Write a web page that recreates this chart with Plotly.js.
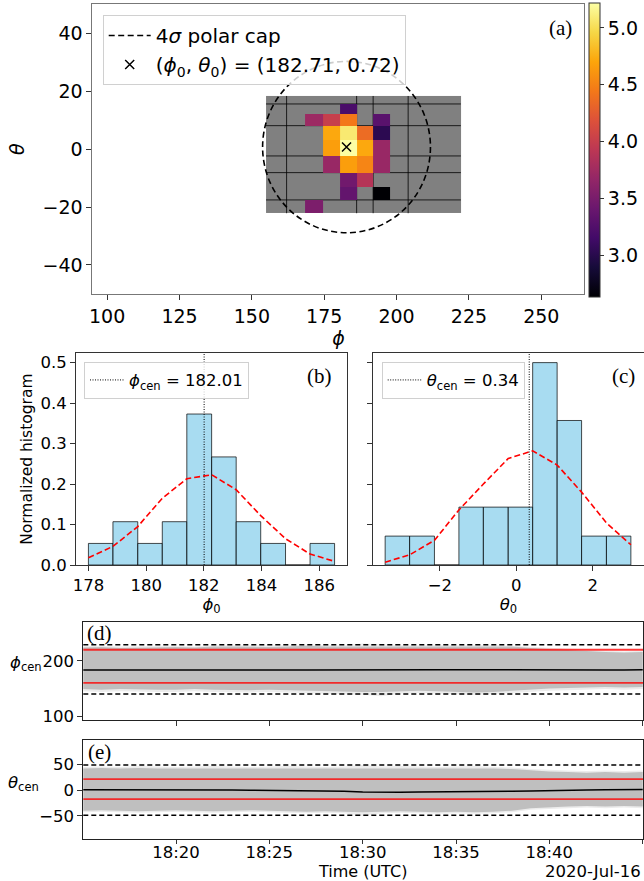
<!DOCTYPE html>
<html><head><meta charset="utf-8">
<script src="https://cdn.plot.ly/plotly-3.0.1.min.js"></script>
<style>html,body{margin:0;padding:0;background:#fff}#plot{width:644px;height:881px}</style>
</head><body><div id="plot"></div>
<script>
// ================= DATA =================
// (a) polar-cap map
const mapColEdges = [154.9, 162.0, 168.4, 174.5, 180.5, 186.2, 191.9, 197.7, 204.0, 222.2];
const mapRowEdges = [18.37, 15.61, 12.15, 8.11, 3.18, -2.35, -8.11, -12.95, -17.54, -22.13]; // top -> bottom
const mapValues = [ // rows top -> bottom, columns left -> right
  [null, null, null, null, null, null, null, null, null],
  [null, null, null, null, 3.20, null, null, null, null],
  [null, null, 3.72, 4.00, 4.44, null, 3.30, null, null],
  [null, null, null, 4.72, 5.08, 4.36, 3.02, null, null],
  [null, null, null, 4.66, 5.22, 4.72, 3.70, null, null],
  [null, null, null, 3.70, 4.66, 4.52, 3.70, null, null],
  [null, null, null, null, 3.45, 3.88, null, null, null],
  [null, null, null, null, 3.36, null, 2.63, null, null],
  [null, null, 3.52, null, null, null, null, null, null]
];
const gridLinePhi = [162.0, 186.2, 191.9, 204.0];
const gridLineTheta = [15.61, 8.11, -2.35, -8.11, -17.54];
const capCenter = [182.71, 0.72];
const capRadius = [29.0, 29.6];
const colorRange = [2.63, 5.22];
const colorTicks = [3.0, 3.5, 4.0, 4.5, 5.0];

// (b) phi0 histogram
const phiEdges = [178.00, 178.85, 179.71, 180.56, 181.41, 182.27, 183.12, 183.97, 184.83, 185.68, 186.53];
const phiDensity = [0.0533, 0.107, 0.0533, 0.107, 0.373, 0.267, 0.107, 0.0533, 0, 0.0533];
const phiFit = [0.018, 0.046, 0.095, 0.165, 0.213, 0.223, 0.186, 0.122, 0.065, 0.027, 0.009];
const phiCen = 182.01;

// (c) theta0 histogram
const thetaEdges = [-3.43, -2.79, -2.14, -1.50, -0.86, -0.21, 0.43, 1.07, 1.71, 2.36, 3.00];
const thetaDensity = [0.0714, 0.0714, 0, 0.143, 0.143, 0.143, 0.500, 0.357, 0.0714, 0.0714];
const thetaFit = [0.007, 0.025, 0.061, 0.136, 0.200, 0.263, 0.282, 0.247, 0.180, 0.104, 0.050];
const thetaCen = 0.34;

// (d),(e) time series, one sample per minute from 18:15 to 18:45 UTC
const timeMinutes = [15,16,17,18,19,20,21,22,23,24,25,26,27,28,29,30,31,32,33,34,35,36,37,38,39,40,41,42,43,44,45];
const phiCenSeries = [183.5,183.6,183.4,183.2,183.5,183.7,183.3,183.0,183.2,183.6,183.8,183.5,183.4,183.6,183.9,184.2,184.5,184.3,184.0,183.9,183.8,183.6,183.4,183.5,183.3,183.5,183.6,183.4,183.5,183.6,183.7];
const phiInUpper  = [224,225,223,224,225,225,224,226,226,225,225,226,227,226,226,227,227,226,226,227,226,226,227,226,223,221,219,217,216,215,216];
const phiOutUpper = [226,227,226,227,227,227,226,228,228,227,227,228,229,228,228,231,229,228,228,229,228,228,229,227,225,223,221,219,218,217,218];
const phiInLower  = [149,148,149,148,148,148,149,148,147,147,148,147,146,145,145,144,144,145,146,145,144,143,144,146,149,150,151,152,153,152,153];
const phiOutLower = [145,144,145,144,144,144,145,144,143,143,144,143,142,141,141,139,136,141,142,141,140,139,140,142,145,146,147,148,149,148,149];
const thetaCenSeries = [0.5,0.6,0.4,0.5,0.8,1.0,0.6,0.2,0.0,-0.3,-0.6,-0.4,-1.0,-1.6,-2.2,-3.6,-4.2,-4.0,-3.6,-3.0,-2.8,-2.5,-2.2,-2.0,-1.5,-0.5,0.0,0.3,0.5,0.8,1.0];
const thetaInUpper  = [42,43,42,43,42,42,42,43,42,42,42,43,42,42,42,43,42,43,42,42,42,43,42,41,38,36,35,34,35,34,35];
const thetaOutUpper = [45,46,45,47,46,45,46,47,46,45,46,47,46,45,46,49,46,47,46,45,46,47,45,44,41,39,38,37,38,37,38];
const thetaInLower  = [-40,-39,-40,-41,-40,-39,-40,-41,-40,-39,-40,-41,-42,-41,-42,-43,-42,-41,-42,-43,-42,-43,-42,-40,-35,-33,-32,-31,-32,-31,-32];
const thetaOutLower = [-43,-42,-43,-44,-43,-42,-43,-44,-43,-42,-43,-44,-45,-44,-45,-50,-45,-44,-45,-46,-45,-46,-45,-43,-38,-36,-35,-34,-35,-34,-35];
const phiDashed = [228.9, 140.3];
const phiRed = [219.9, 160.2];
const thetaDashed = [48.7, -48.7];
const thetaRed = [21.4, -17.5];
const dateLabel = '2020-Jul-16';

// ================= BUILD =================
const W = 644, H = 881;
const fx = p => p / W;
const fy = p => 1 - p / H;
const FONT = 'DejaVu Sans';
const SERIF = 'Liberation Serif';
const INFERNO = [[0,'#000004'],[0.1,'#160b39'],[0.2,'#420a68'],[0.3,'#6a176e'],[0.4,'#932667'],[0.5,'#bc3754'],[0.6,'#dd513a'],[0.7,'#f37819'],[0.8,'#fca50a'],[0.9,'#f6d746'],[1,'#fcffa4']];

const rowEdgesAsc = mapRowEdges.slice().reverse();
const zAsc = mapValues.slice().reverse();
const times = timeMinutes.map(m => `2020-07-16 18:${String(m).padStart(2,'0')}:00`);
const centers = e => e.slice(0,-1).map((v,i) => (v + e[i+1]) / 2);
const widths = e => e.slice(0,-1).map((v,i) => e[i+1] - v);

// grid lines as segments separated by nulls
const gx = [], gy = [];
gridLinePhi.forEach(p => { gx.push(p, p, null); gy.push(mapRowEdges[0], mapRowEdges[mapRowEdges.length-1], null); });
gridLineTheta.forEach(t => { gx.push(mapColEdges[0], mapColEdges[mapColEdges.length-1], null); gy.push(t, t, null); });

const DASH = '6px,3.5px';
const traces = [
  // gray background of map
  {type:'heatmap', x:[mapColEdges[0], mapColEdges[mapColEdges.length-1]], y:[rowEdgesAsc[0], rowEdgesAsc[rowEdgesAsc.length-1]], z:[[1]],
   colorscale:[[0,'#808080'],[1,'#808080']], showscale:false, hoverinfo:'skip', xaxis:'x', yaxis:'y'},
  {type:'scatter', mode:'lines', x:gx, y:gy, line:{color:'rgba(0,0,0,0.8)', width:1}, showlegend:false, hoverinfo:'skip', xaxis:'x', yaxis:'y'},
  {type:'scatter', mode:'lines', x:[null], y:[null], line:{color:'#000', width:1.6, dash:DASH}, name:'4<i>σ</i> polar cap', legend:'legend', legendrank:1, xaxis:'x', yaxis:'y'},
  // colored cells on overlay axis (drawn above grid lines)
  {type:'heatmap', x:mapColEdges, y:rowEdgesAsc, z:zAsc, zmin:colorRange[0], zmax:colorRange[1], colorscale:INFERNO, hoverongaps:false,
   xaxis:'x', yaxis:'y6', showlegend:false,
   colorbar:{x:fx(589), xanchor:'left', y:fy(150), yanchor:'middle', len:294, lenmode:'pixels', thickness:10.5, thicknessmode:'pixels',
     xpad:0, ypad:0, outlinewidth:1, outlinecolor:'#333', ticks:'outside', ticklen:4, tickcolor:'#333',
     tickvals:colorTicks, tickformat:'.1f', tickfont:{family:FONT, size:19, color:'#000'}}},
  {type:'scatter', mode:'markers', x:[capCenter[0]], y:[capCenter[1]], marker:{symbol:'x-thin', size:9, line:{color:'#000', width:1.5}, color:'#000'},
   name:'(<i>ϕ</i><sub>0</sub>, <i>θ</i><sub>0</sub>) = (182.71, 0.72)', legend:'legend', legendrank:2, xaxis:'x', yaxis:'y6'},

  // (b)
  {type:'bar', x:centers(phiEdges), y:phiDensity, width:widths(phiEdges), marker:{color:'rgba(135,206,235,0.72)', line:{color:'rgba(0,0,0,0.7)', width:1}},
   xaxis:'x2', yaxis:'y2', showlegend:false},
  {type:'scatter', mode:'lines', x:phiEdges, y:phiFit, line:{color:'#ff0000', width:1.6, dash:'6px,3px'}, xaxis:'x2', yaxis:'y2', showlegend:false},
  {type:'scatter', mode:'lines', x:[null], y:[null], line:{color:'#000', width:1, dash:'1px,1.5px'}, name:'<i>ϕ</i><sub>cen</sub> = 182.01', legend:'legend2', xaxis:'x2', yaxis:'y2'},

  // (c)
  {type:'bar', x:centers(thetaEdges), y:thetaDensity, width:widths(thetaEdges), marker:{color:'rgba(135,206,235,0.72)', line:{color:'rgba(0,0,0,0.7)', width:1}},
   xaxis:'x3', yaxis:'y3', showlegend:false},
  {type:'scatter', mode:'lines', x:thetaEdges, y:thetaFit, line:{color:'#ff0000', width:1.6, dash:'6px,3px'}, xaxis:'x3', yaxis:'y3', showlegend:false},
  {type:'scatter', mode:'lines', x:[null], y:[null], line:{color:'#000', width:1, dash:'1px,1.5px'}, name:'<i>θ</i><sub>cen</sub> = 0.34', legend:'legend3', xaxis:'x3', yaxis:'y3'},

  // (d)
  {type:'scatter', mode:'lines', x:times, y:phiOutLower, line:{width:0}, xaxis:'x4', yaxis:'y4', showlegend:false, hoverinfo:'skip'},
  {type:'scatter', mode:'lines', x:times, y:phiOutUpper, line:{width:0}, fill:'tonexty', fillcolor:'#ececec', xaxis:'x4', yaxis:'y4', showlegend:false, hoverinfo:'skip'},
  {type:'scatter', mode:'lines', x:times, y:phiInLower, line:{width:0}, xaxis:'x4', yaxis:'y4', showlegend:false, hoverinfo:'skip'},
  {type:'scatter', mode:'lines', x:times, y:phiInUpper, line:{width:0}, fill:'tonexty', fillcolor:'#bfbfbf', xaxis:'x4', yaxis:'y4', showlegend:false, hoverinfo:'skip'},
  {type:'scatter', mode:'lines', x:times, y:phiCenSeries, line:{color:'#000', width:1.5}, xaxis:'x4', yaxis:'y4', showlegend:false},

  // (e)
  {type:'scatter', mode:'lines', x:times, y:thetaOutLower, line:{width:0}, xaxis:'x5', yaxis:'y5', showlegend:false, hoverinfo:'skip'},
  {type:'scatter', mode:'lines', x:times, y:thetaOutUpper, line:{width:0}, fill:'tonexty', fillcolor:'#ececec', xaxis:'x5', yaxis:'y5', showlegend:false, hoverinfo:'skip'},
  {type:'scatter', mode:'lines', x:times, y:thetaInLower, line:{width:0}, xaxis:'x5', yaxis:'y5', showlegend:false, hoverinfo:'skip'},
  {type:'scatter', mode:'lines', x:times, y:thetaInUpper, line:{width:0}, fill:'tonexty', fillcolor:'#bfbfbf', xaxis:'x5', yaxis:'y5', showlegend:false, hoverinfo:'skip'},
  {type:'scatter', mode:'lines', x:times, y:thetaCenSeries, line:{color:'#000', width:1.5}, xaxis:'x5', yaxis:'y5', showlegend:false}
];

const TF = {family:FONT, size:16.5, color:'#000'};
const ax = (o) => Object.assign({showline:true, mirror:true, linecolor:'#333', linewidth:1, ticks:'outside', ticklen:5, tickwidth:1, tickcolor:'#333',
  showgrid:false, zeroline:false, fixedrange:true, tickfont:TF}, o);

const shapes = [
  {type:'circle', xref:'x', yref:'y', x0:capCenter[0]-capRadius[0], x1:capCenter[0]+capRadius[0], y0:capCenter[1]-capRadius[1], y1:capCenter[1]+capRadius[1],
   line:{color:'#000', width:1.6, dash:DASH}},
  {type:'line', xref:'x2', yref:'y2 domain', x0:phiCen, x1:phiCen, y0:0, y1:1, line:{color:'#000', width:1, dash:'1px,1.5px'}},
  {type:'line', xref:'x3', yref:'y3 domain', x0:thetaCen, x1:thetaCen, y0:0, y1:1, line:{color:'#000', width:1, dash:'1px,1.5px'}}
];
phiDashed.forEach(v => shapes.push({type:'line', xref:'x4 domain', yref:'y4', x0:0, x1:1, y0:v, y1:v, line:{color:'#000', width:1.5, dash:'5px,3px'}}));
phiRed.forEach(v => shapes.push({type:'line', xref:'x4 domain', yref:'y4', x0:0, x1:1, y0:v, y1:v, line:{color:'rgba(255,0,0,0.78)', width:1.8}}));
thetaDashed.forEach(v => shapes.push({type:'line', xref:'x5 domain', yref:'y5', x0:0, x1:1, y0:v, y1:v, line:{color:'#000', width:1.5, dash:'5px,3px'}}));
thetaRed.forEach(v => shapes.push({type:'line', xref:'x5 domain', yref:'y5', x0:0, x1:1, y0:v, y1:v, line:{color:'rgba(255,0,0,0.78)', width:1.8}}));

const panelLabel = (t, x, y) => ({text:t, xref:'paper', yref:'paper', x:fx(x), y:fy(y), xanchor:'center', yanchor:'middle', showarrow:false,
  font:{family:SERIF, size:21, color:'#000'}});

const legendBase = {bgcolor:'rgba(255,255,255,0.8)', bordercolor:'#d0d0d0', borderwidth:1, xanchor:'left', yanchor:'top', itemwidth:40, traceorder:'normal'};

const layout = {
  width:W, height:H, margin:{l:0, r:0, t:0, b:0}, paper_bgcolor:'#fff', plot_bgcolor:'#fff',
  font:{family:FONT, color:'#000'},
  xaxis: ax({domain:[fx(92.4), fx(584.4)], range:[94.9, 264.9], tickvals:[100,125,150,175,200,225,250], anchor:'y', linecolor:'#777',
     tickfont:{family:FONT, size:19, color:'#000'}, title:{text:'<i>ϕ</i>', font:{family:FONT, size:19}, standoff:4}}),
  yaxis: ax({domain:[fy(293.9), fy(4.4)], range:[-50, 50], tickvals:[-40,-20,0,20,40], anchor:'x', linecolor:'#777',
     tickfont:{family:FONT, size:19, color:'#000'}, title:{text:'<i>θ</i>', font:{family:FONT, size:19}, standoff:12}}),
  yaxis6: {overlaying:'y', range:[-50, 50], visible:false, fixedrange:true},
  xaxis2: ax({domain:[fx(76), fx(347)], range:[177.57, 186.96], tickvals:[178,180,182,184,186], anchor:'y2',
     title:{text:'<i>ϕ</i><sub>0</sub>', font:{family:FONT, size:16.5}, standoff:2}}),
  yaxis2: ax({domain:[fy(565), fy(353.3)], range:[0, 0.523], tickvals:[0,0.1,0.2,0.3,0.4,0.5], tickformat:'.1f', anchor:'x2',
     title:{text:'Normalized histogram', font:{family:FONT, size:15.5}, standoff:4}}),
  xaxis3: ax({domain:[fx(373.3), fx(643.5)], range:[-3.74, 3.33], tickvals:[-2,0,2], anchor:'y3',
     title:{text:'<i>θ</i><sub>0</sub>', font:{family:FONT, size:16.5}, standoff:2}}),
  yaxis3: ax({domain:[fy(565), fy(353.3)], range:[0, 0.523], tickvals:[0,0.1,0.2,0.3,0.4,0.5], showticklabels:false, anchor:'x3'}),
  xaxis4: ax({domain:[fx(83.3), fx(643)], type:'date', range:['2020-07-16 18:15:02','2020-07-16 18:45:01'], tick0:'2020-07-16 18:00:00', dtick:300000,
     showticklabels:false, anchor:'y4', linecolor:'#222'}),
  yaxis4: ax({domain:[fy(720.3), fy(622.3)], range:[92.8, 269.4], tickvals:[100,200], anchor:'x4', linecolor:'#222'}),
  xaxis5: ax({domain:[fx(83.3), fx(643)], type:'date', range:['2020-07-16 18:15:02','2020-07-16 18:45:01'], tick0:'2020-07-16 18:00:00', dtick:300000,
     tickformat:'%H:%M', ticklen:4, ticklabelstandoff:-5, anchor:'y5', linecolor:'#222', title:{text:'Time (UTC)', font:{family:FONT, size:16}, standoff:0}}),
  yaxis5: ax({domain:[fy(838.5), fy(740)], range:[-94, 97.4], tickvals:[-50,0,50], anchor:'x5', linecolor:'#222'}),
  legend: Object.assign({}, legendBase, {x:fx(102.7), y:fy(15), font:{family:FONT, size:20, color:'#000'}, itemwidth:42}),
  legend2: Object.assign({}, legendBase, {x:fx(84), y:fy(361.7), font:{family:FONT, size:16.5, color:'#000'}, itemwidth:34}),
  legend3: Object.assign({}, legendBase, {x:fx(381.7), y:fy(361.7), font:{family:FONT, size:16.5, color:'#000'}, itemwidth:34}),
  shapes: shapes,
  annotations: [
    panelLabel('(a)', 560.5, 28),
    panelLabel('(b)', 319, 376),
    panelLabel('(c)', 623, 376),
    panelLabel('(d)', 99.3, 633),
    panelLabel('(e)', 99, 752),
    {text:'<i>ϕ</i><sub>cen</sub>', xref:'paper', yref:'paper', x:fx(44), y:fy(663), xanchor:'right', yanchor:'middle', showarrow:false, font:{family:FONT, size:16.5, color:'#000'}},
    {text:'<i>θ</i><sub>cen</sub>', xref:'paper', yref:'paper', x:fx(41), y:fy(783), xanchor:'right', yanchor:'middle', showarrow:false, font:{family:FONT, size:16.5, color:'#000'}},
    {text:dateLabel, xref:'paper', yref:'paper', x:fx(643), y:fy(871), xanchor:'right', yanchor:'middle', showarrow:false, font:{family:FONT, size:16.5, color:'#000'}}
  ]
};

Plotly.newPlot('plot', traces, layout, {displayModeBar:false, staticPlot:true});
</script>
</body></html>
